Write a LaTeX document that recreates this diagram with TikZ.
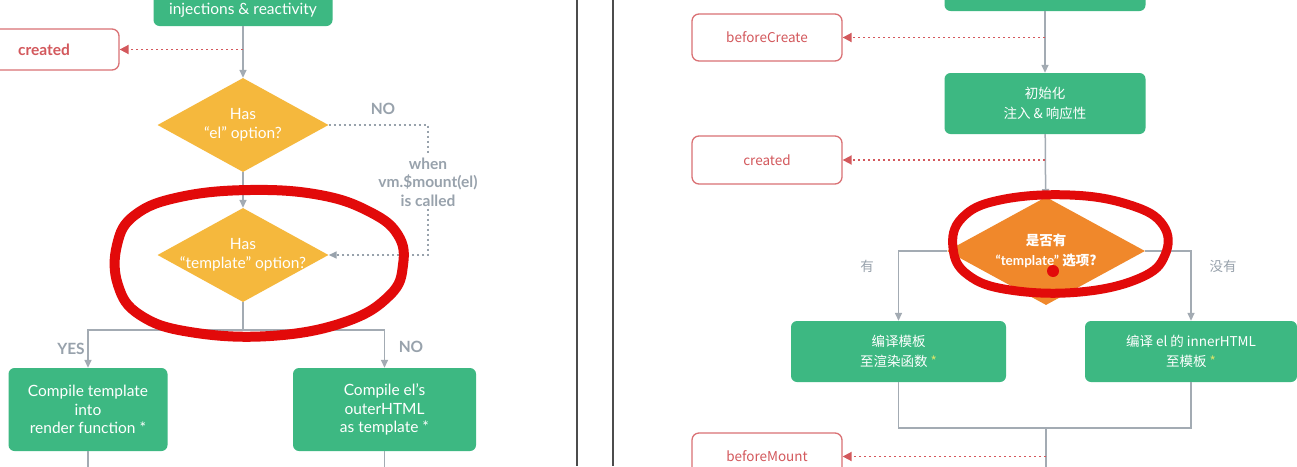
\documentclass[tikz,border=0pt]{standalone}
\usepackage{fontspec}
\setmainfont{Lato}
\newfontfamily\cjk{Noto Sans CJK SC}
\usetikzlibrary{arrows.meta}
\usetikzlibrary{positioning}
\usetikzlibrary{shapes.geometric}

\definecolor{vuegreen}{HTML}{3DB882}
\definecolor{gold}{HTML}{F5B83D}
\definecolor{amber}{HTML}{F0882B}
\definecolor{hookred}{HTML}{D3585C}
\definecolor{flowgray}{HTML}{A3ABB3}
\definecolor{notegray}{HTML}{98A2AC}
\definecolor{marker}{HTML}{E20A0A}
\definecolor{starcol}{HTML}{D8E36A}

\newcommand\enfont{\fontsize{15.5}{18.5}\selectfont}
\newcommand\cnfont{\cjk\fontsize{13.5}{20}\selectfont}
\newcommand\latinq[1]{{\rmfamily “#1”}}

\tikzset{
  greenbox/.style={fill=vuegreen, rounded corners=6pt, text=white, align=center, inner sep=0pt},
  hookbox/.style={draw=hookred!85, line width=1.3pt, rounded corners=7pt, fill=white, inner sep=0pt},
  decide/.style={diamond, fill=#1, text=white, align=center, inner xsep=-35pt, inner ysep=0pt, aspect=1.8},
  line/.style={draw=flowgray, line width=1.5pt},
  flow/.style={line, -{Triangle[length=8pt,width=7pt]}},
  hook/.style={draw=hookred, line width=1.8pt, dash pattern=on 2.2pt off 2.8pt, -{Triangle[length=9pt,width=9pt]}},
  mountline/.style={draw=notegray, line width=1.6pt, dash pattern=on 2.2pt off 2.8pt},
  note/.style={text=notegray, font=\enfont\bfseries, inner sep=2pt},
  cnnote/.style={text=notegray, font=\cnfont, inner sep=0pt},
  divider/.style={draw=black!70, line width=1.4pt},
  marker line/.style={draw=marker, line width=10pt, line cap=round, line join=round}
}

\begin{document}
\begin{tikzpicture}[x=1pt,y=-1pt]
  \useasboundingbox[fill=white] (0,0) rectangle (1297,466);
  \draw[divider] (577,0) -- (577,466) (613,0) -- (613,466);

  % left: english lifecycle
  \node[greenbox, minimum width=179, minimum height=32, font=\enfont] (inject) at (243,10) {injections \& reactivity};
  \node[hookbox, minimum width=150, minimum height=41, text=hookred, font=\enfont\bfseries] (created) at (44,49.5) {created};
  \node[decide=gold, minimum width=171, minimum height=94, font=\enfont] (hasel) at (243,125) {Has\\“el” option?};
  \node[decide=gold, minimum width=171, minimum height=94, font=\enfont] (hastpl) at (243,255) {Has\\“template” option?};
  \node[note] (elno) at (383,109) {NO};
  \node[note, align=center] (when) at (428,182) {when\\vm.\$mount(el)\\is called};
  \node[note] (tplyes) at (71,349) {YES};
  \node[note] (tplno) at (411,347) {NO};
  \node[greenbox, minimum width=159, minimum height=83, font=\enfont] (compile) at (88,409.5) {Compile template\\into\\render function *};
  \node[greenbox, minimum width=183, minimum height=83, font=\enfont] (outer) at (384.5,409.5) {Compile el's\\outerHTML\\as template *};
  \coordinate (split) at (243,330);
  \coordinate (compileend) at (88,470);
  \coordinate (outerend) at (384.5,470);

  \draw[flow] (inject) -- (hasel);
  \draw[hook] (inject |- created) -- (created);
  \draw[flow] (hasel) -- (hastpl);
  \draw[mountline] (hasel.east) -| (when.north);
  \draw[mountline, -{Triangle[length=8pt,width=7pt]}] (when.south) |- (hastpl.east);
  \draw[line] (hastpl) -- (split);
  \draw[flow] (split) -| (compile);
  \draw[flow] (split) -| (outer);
  \draw[line] (compile) -- (compileend);
  \draw[line] (outer) -- (outerend);

  % right: chinese lifecycle
  \node[greenbox, minimum width=201, minimum height=40] (newvue) at (1045,-9) {};
  \node[hookbox, minimum width=150, minimum height=47, text=hookred, font=\cnfont] (beforecreate) at (767,37.5) {beforeCreate};
  \node[greenbox, minimum width=201, minimum height=61, font=\cnfont] (initcn) at (1045,103.5) {初始化\\注入 \& 响应性};
  \node[hookbox, minimum width=150, minimum height=48, text=hookred, font=\cnfont] (createdcn) at (767,160) {created};
  \node[decide=amber, minimum width=198, minimum height=108, font=\cnfont\bfseries] (hastplcn) at (1046,251) {是否有\\\latinq{template} 选项?};
  \node[cnnote] (you) at (867,266) {有};
  \node[cnnote] (meiyou) at (1223,266) {没有};
  \node[greenbox, minimum width=215, minimum height=61, font=\cnfont] (rendercn) at (898.5,351.5) {编译模板\\至渲染函数 {\color{starcol}*}};
  \node[greenbox, minimum width=212, minimum height=61, font=\cnfont] (innercn) at (1191,351.5) {编译 el 的 innerHTML\\至模板 {\color{starcol}*}};
  \coordinate (merge) at (1046,428);
  \node[hookbox, minimum width=150, minimum height=47, text=hookred, font=\cnfont] (beforemount) at (767,456.5) {beforeMount};
  \coordinate (mountend) at (1046,470);

  \draw[flow] (newvue) -- (initcn);
  \draw[hook] (newvue |- beforecreate) -- (beforecreate);
  \draw[flow] (initcn) -- (hastplcn);
  \draw[hook] (initcn |- createdcn) -- (createdcn);
  \draw[flow] (hastplcn.west) -| (rendercn);
  \draw[flow] (hastplcn.east) -| (innercn);
  \draw[line] (rendercn) |- (merge) -| (innercn);
  \draw[line] (merge) -- (mountend);
  \draw[hook] (merge |- beforemount) -- (beforemount);

  % hand drawn marks
  \draw[marker line] plot[smooth cycle, tension=0.7] coordinates {(250,190) (320,195) (370,212) (398,235) (403,265) (390,295) (345,322) (270,336) (190,332) (140,315) (118,285) (117,245) (135,215) (180,197)};
  \draw[marker line, line width=9pt] plot[smooth cycle, tension=0.7] coordinates {(1000,200) (1070,195) (1130,205) (1163,225) (1165,255) (1140,278) (1080,292) (1010,290) (968,275) (953,248) (962,218)};
  \fill[marker] (1053,271) circle (6);
\end{tikzpicture}
\end{document}
